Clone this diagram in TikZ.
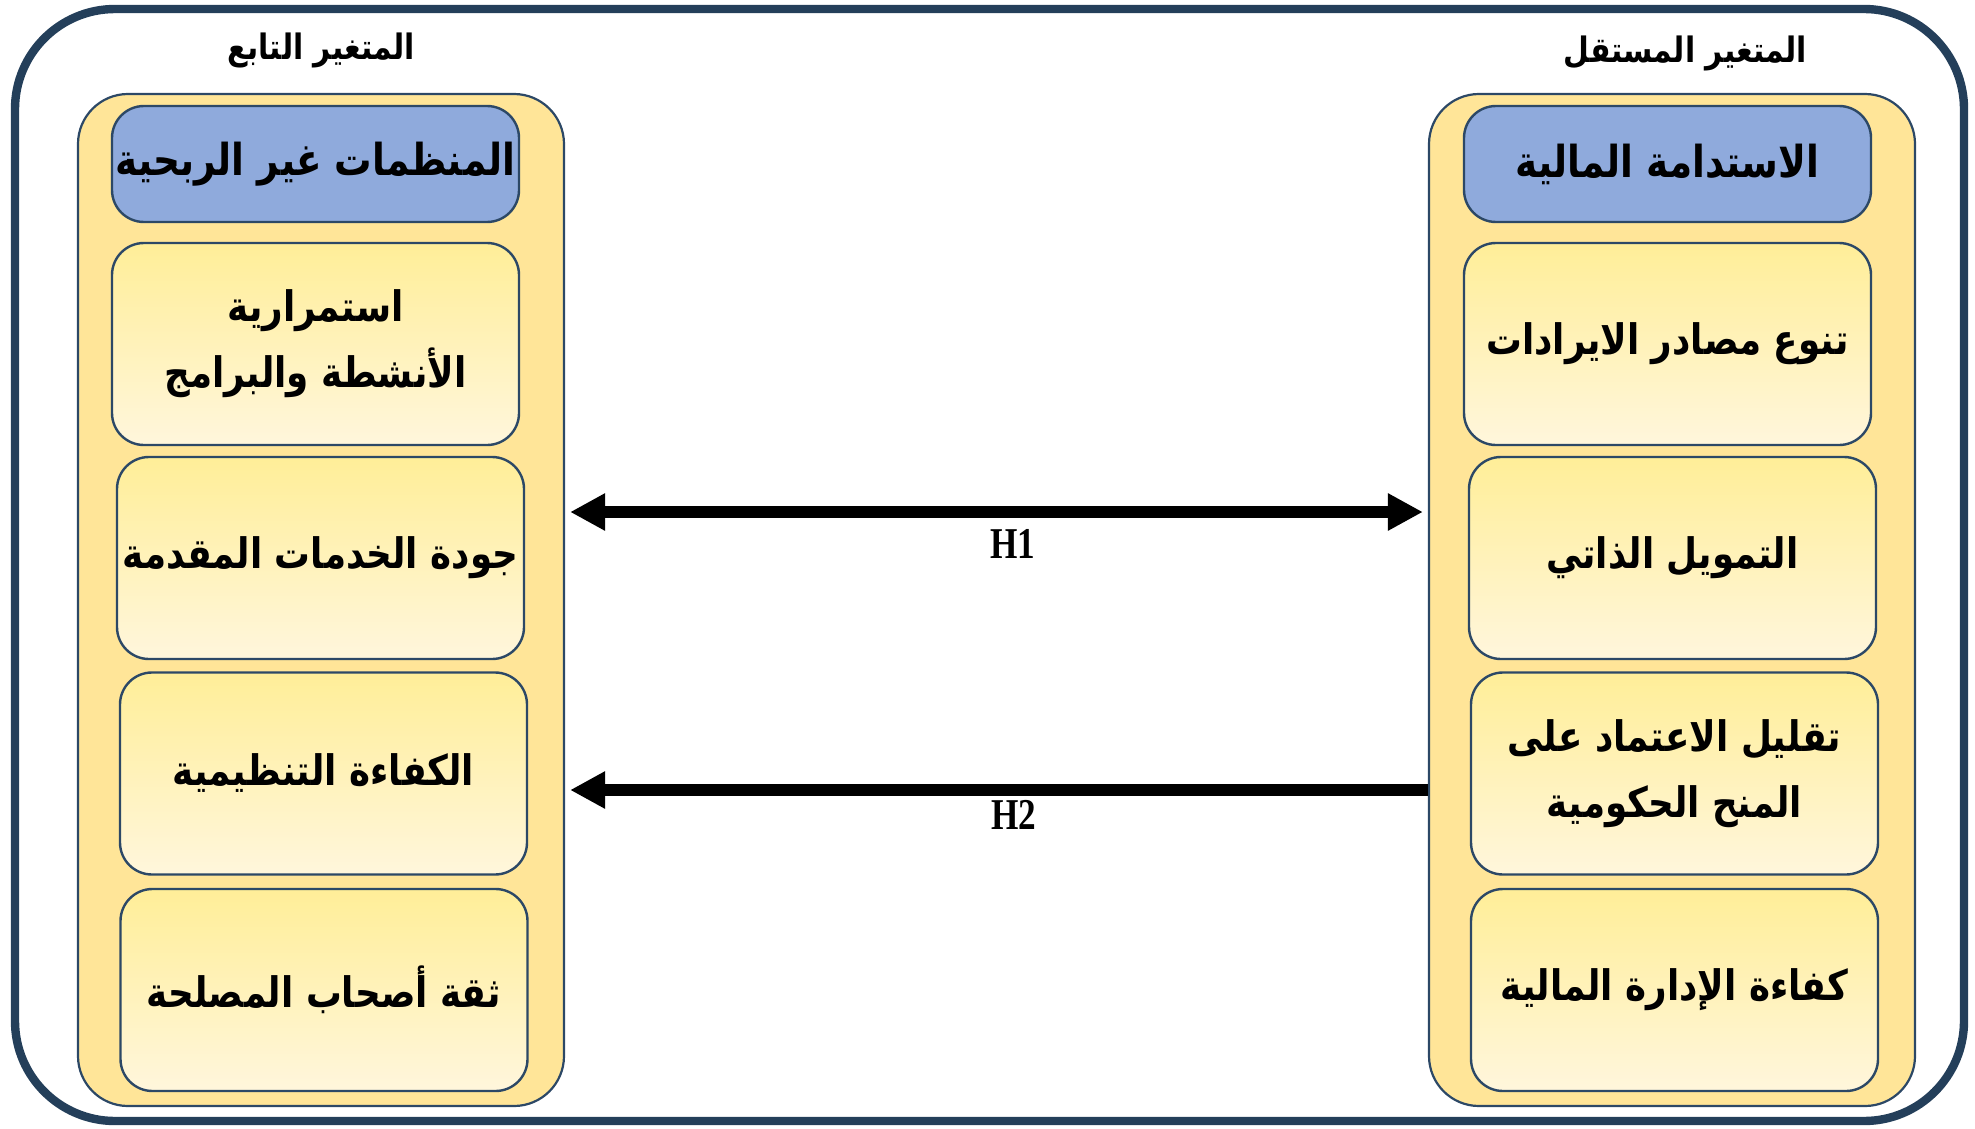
\documentclass[tikz,border=0pt]{standalone}
\usepackage{fontspec}
\usetikzlibrary{arrows.meta}
\TeXXeTstate=1
\newfontfamily\arabicfont[Script=Arabic,FakeStretch=0.85]{DejaVu Sans}
\newfontfamily\hfont[FakeStretch=0.8]{Liberation Serif}
\definecolor{framec}{HTML}{243F5A}
\definecolor{edgec}{HTML}{2C4866}
\definecolor{panelc}{HTML}{FFE598}
\definecolor{headc}{HTML}{8FAADC}
\definecolor{boxtop}{HTML}{FFEE98}
\definecolor{boxbot}{HTML}{FFF6DC}
\tikzset{
  panel/.style={draw=edgec, line width=1.1pt, fill=panelc, rounded corners=25pt,
    minimum width=243pt, minimum height=506pt, inner sep=0pt},
  headbox/.style={draw=edgec, line width=1.2pt, fill=headc, rounded corners=16pt,
    minimum width=203.5pt, minimum height=58pt, inner sep=0pt,
    font=\arabicfont\bfseries\fontsize{22pt}{27pt}\selectfont},
  itembox/.style={draw=edgec, line width=1.2pt, top color=boxtop, bottom color=boxbot,
    rounded corners=16pt, minimum width=203.5pt, minimum height=101pt, inner sep=0pt,
    align=center, font=\arabicfont\bfseries\fontsize{21pt}{33pt}\selectfont},
  title/.style={font=\arabicfont\bfseries\fontsize{17.5pt}{21pt}\selectfont},
  hlabel/.style={font=\hfont\bfseries\fontsize{22pt}{26pt}\selectfont},
  tipb/.tip={Triangle[length=17.5pt,width=17.5pt]},
  harrow/.style={line width=6pt},
}
\begin{document}
\begin{tikzpicture}[x=0.5pt,y=-0.5pt]
\useasboundingbox (0,0) rectangle (1975,1129);
\draw[framec, line width=4.2pt, rounded corners=50pt] (15,9) rectangle (1964,1121);

\node[title] (tl) at (321,50) {\beginR المتغير التابع\endR};
\node[title] (tr) at (1685,53) {\beginR المتغير المستقل\endR};

\node[panel] (lp) at (321,600) {};
\node[panel] (rp) at (1672,600) {};

\node[headbox] (lh) at (315.5,164) {\beginR المنظمات غير الربحية\endR};
\node[itembox] (l1) at (315.5,344) {\beginR استمرارية\endR\\\beginR الأنشطة والبرامج\endR};
\node[itembox] (l2) at (320.5,558) {\beginR جودة الخدمات المقدمة\endR};
\node[itembox] (l3) at (323.5,773.5) {\beginR الكفاءة التنظيمية\endR};
\node[itembox] (l4) at (324,990) {\beginR ثقة أصحاب المصلحة\endR};

\node[headbox] (rh) at (1667.5,164) {\beginR الاستدامة المالية\endR};
\node[itembox] (r1) at (1667.5,344) {\beginR تنوع مصادر الايرادات\endR};
\node[itembox] (r2) at (1672.5,558) {\beginR التمويل الذاتي\endR};
\node[itembox] (r3) at (1674.5,773.5) {\beginR تقليل الاعتماد على\endR\\\beginR المنح الحكومية\endR};
\node[itembox] (r4) at (1674.5,990) {\beginR كفاءة الإدارة المالية\endR};

\coordinate (h1) at (1000,512);
\coordinate (h2) at (1000,790);
\draw[harrow, tipb-tipb, shorten <=2.5pt, shorten >=2.5pt] (lp.east |- h1) -- (rp.west |- h1);
\draw[harrow, -tipb, shorten >=2.5pt] (rp.west |- h2) -- (lp.east |- h2);
\node[hlabel] (lab1) at (1013,544) {H1};
\node[hlabel] (lab2) at (1014,815) {H2};
\end{tikzpicture}
\end{document}
